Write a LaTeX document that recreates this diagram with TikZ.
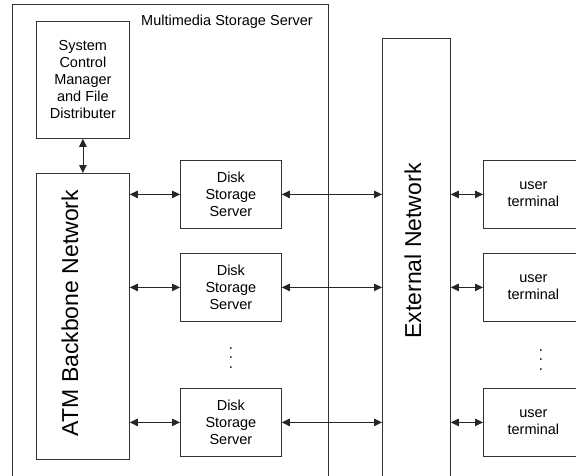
\documentclass[tikz,border=0pt]{standalone}
\usepackage{fontspec}
\setmainfont{Liberation Sans}
\usetikzlibrary{arrows.meta}
\tikzset{
  unit/.style={rectangle, draw=black!80, line width=0.8pt, anchor=north west, inner sep=0pt, align=center, font=\fontsize{14.5}{17}\selectfont},
  biglabel/.style={rotate=90, inner sep=0pt, font=\fontsize{23}{27}\selectfont},
  link/.style={{Triangle[length=8pt,width=7.5pt]}-{Triangle[length=8pt,width=7.5pt]}, line width=0.8pt, draw=black!85}
}
\newcommand{\diskserver}[2] {\node at (#1) (#2) [unit, minimum width=101pt, minimum height=68pt] {Disk\\Storage\\Server};}
\newcommand{\userterminal}[2] {\node at (#1) (#2) [unit, minimum width=100pt, minimum height=68pt] {user\\terminal};}
\newcommand{\moredots}[2] {\node at (#1) (#2) [rotate=-90, inner sep=0pt, font=\fontsize{15}{15}\selectfont] {. . .};}
\newcommand{\biarrow}[2] {\draw [link] (#1) -- (#2);}

\begin{document}
\begin{tikzpicture}[x=1pt, y=-1pt]
\clip (0,0) rectangle (576,475);

% storage server frame, open at the bottom
\node at (12,4) (mss) [unit, minimum width=316pt, minimum height=500pt] {};
\node at (227,22) (msslabel) [font=\fontsize{14.5}{17}\selectfont] {Multimedia Storage Server};

\node at (36,21) (scm) [unit, minimum width=93pt, minimum height=117pt] {System\\Control\\Manager\\and File\\Distributer};
\node at (36,173) (atm) [unit, minimum width=93pt, minimum height=286pt] {};
\node at (70,313) (atmlabel) [biglabel] {ATM Backbone Network};

\diskserver {180,160} {d1};
\diskserver {180,253} {d2};
\diskserver {180,388} {d3};
\moredots {231,358} {ddots};

% external network, open at the bottom
\node at (382,38) (ext) [unit, minimum width=68pt, minimum height=480pt] {};
\node at (413,251) (extlabel) [biglabel] {External Network};

\userterminal {483,160} {u1};
\userterminal {483,253} {u2};
\userterminal {483,388} {u3};
\moredots {541,360} {udots};

\biarrow{scm.south}{atm.north};

\biarrow{atm.east |- d1.west}{d1.west};
\biarrow{atm.east |- d2.west}{d2.west};
\biarrow{atm.east |- d3.west}{d3.west};

\biarrow{d1.east}{d1.east -| ext.west};
\biarrow{d2.east}{d2.east -| ext.west};
\biarrow{d3.east}{d3.east -| ext.west};

\biarrow{ext.east |- u1.west}{u1.west};
\biarrow{ext.east |- u2.west}{u2.west};
\biarrow{ext.east |- u3.west}{u3.west};
\end{tikzpicture}
\end{document}
